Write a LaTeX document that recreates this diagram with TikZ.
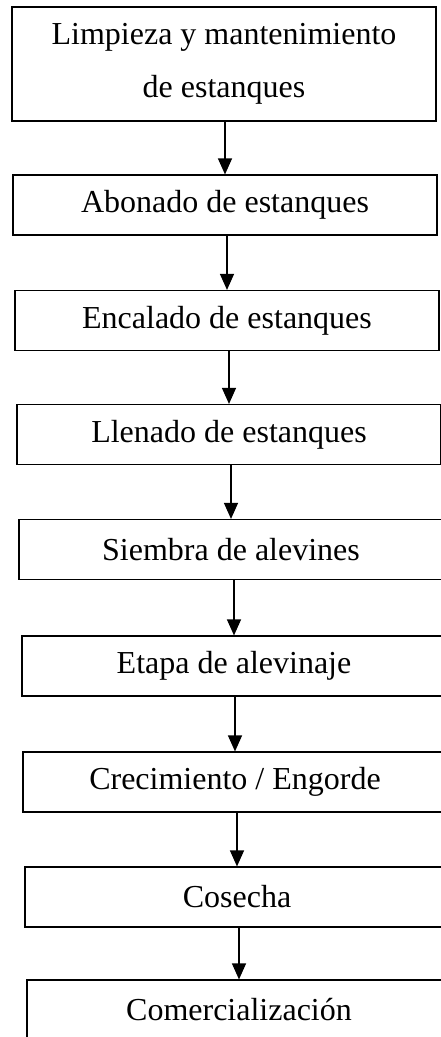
\documentclass[tikz,border=0pt]{standalone}
\usepackage{fontspec}
\setmainfont{Liberation Serif}
\usetikzlibrary{arrows.meta,calc,positioning}

\begin{document}
\begin{tikzpicture}[x=1pt, y=1pt,
    paso/.style={draw=black, line width=1.2pt, minimum width=424pt, minimum height=60pt,
                 inner sep=0pt, align=center, font=\fontsize{32}{53}\selectfont},
    flecha/.style={-{Triangle[length=16pt, width=14pt]}, line width=1.3pt}]
  % Page frame (boxes run past the right and bottom edges)
  \useasboundingbox (0,0) rectangle (441,-1037);
  \clip (0,0) rectangle (441,-1037);

  % Process steps
  \node[paso, minimum height=114pt] (limpieza) at (224, -64) {Limpieza y mantenimiento\\de estanques};
  \node[paso] (abonado) at (225, -205) {Abonado de estanques};
  \node[paso] (encalado) at (227, -320.5) {Encalado de estanques};
  \node[paso] (llenado) at (229, -434.5) {Llenado de estanques};
  \node[paso] (siembra) at (231, -549.5) {Siembra de alevines};
  \node[paso] (alevinaje) at (234, -666) {Etapa de alevinaje};
  \node[paso] (engorde) at (235, -782) {Crecimiento / Engorde};
  \node[paso] (cosecha) at (237, -897) {Cosecha};
  \node[paso] (comercio) at (239, -1010) {Comercialización};

  % Arrows between steps
  \draw[flecha] (abonado.north |- limpieza.south) -- (abonado.north);
  \draw[flecha] (encalado.north |- abonado.south) -- (encalado.north);
  \draw[flecha] (llenado.north |- encalado.south) -- (llenado.north);
  \draw[flecha] (siembra.north |- llenado.south) -- (siembra.north);
  \draw[flecha] (alevinaje.north |- siembra.south) -- (alevinaje.north);
  \draw[flecha] (engorde.north |- alevinaje.south) -- (engorde.north);
  \draw[flecha] (cosecha.north |- engorde.south) -- (cosecha.north);
  \draw[flecha] (comercio.north |- cosecha.south) -- (comercio.north);
\end{tikzpicture}
\end{document}
